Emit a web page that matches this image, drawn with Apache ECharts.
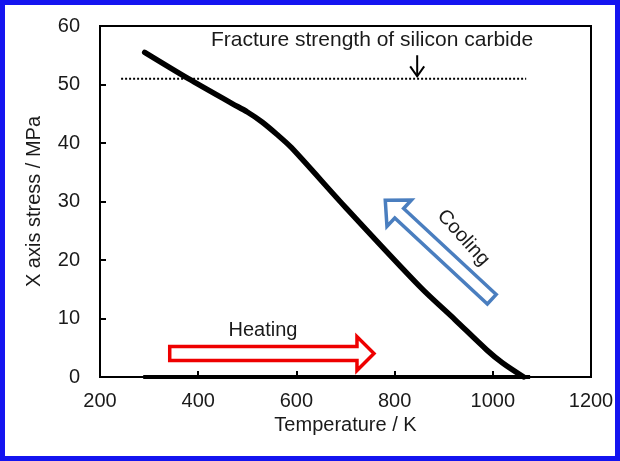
<!DOCTYPE html>
<html>
<head>
<meta charset="utf-8">
<script src="https://cdn.jsdelivr.net/npm/echarts@6/dist/echarts.min.js"></script>
<style>
html,body{margin:0;padding:0;background:#fff;}
#chart{width:620px;height:461px;}
</style>
</head>
<body>
<div id="chart"></div>
<script>
// ---- data ----
const coolTempK   = [291, 380, 470, 500, 530, 560, 590, 700, 852, 923, 988, 1020, 1063];
const coolStress  = [55.5, 51.0, 46.7, 45.3, 43.6, 41.5, 39.2, 29.0, 15.4, 9.8, 4.6, 2.4, 0];
const heatTempK   = [288, 1076];
const heatStress  = [0, 0];
const fractureStrength = 51;
const fractureTempK = [243, 1068];
const xTickLabels = [200, 400, 600, 800, 1000, 1200];
const yTickLabels = [0, 10, 20, 30, 40, 50, 60];

const FONT = 'Arial, "Liberation Sans", sans-serif';
const chart = echarts.init(document.getElementById('chart'));

chart.setOption({
  animation: false,
  backgroundColor: '#ffffff',
  grid: {left: 100, top: 26, right: 29, bottom: 84, show: true, borderColor: '#000', borderWidth: 2, backgroundColor: 'transparent'},
  xAxis: {
    type: 'value', min: xTickLabels[0], max: xTickLabels[xTickLabels.length - 1], interval: 200,
    name: 'Temperature / K', nameLocation: 'middle', nameGap: 31,
    nameTextStyle: {fontSize: 20, color: '#1a1a1a', fontFamily: FONT},
    axisLine: {lineStyle: {color: '#000', width: 2}},
    axisTick: {inside: true, length: 6, lineStyle: {color: '#000', width: 2}},
    axisLabel: {fontSize: 20, color: '#1a1a1a', fontFamily: FONT, margin: 14, formatter: v => String(v)},
    splitLine: {show: false}
  },
  yAxis: {
    type: 'value', min: yTickLabels[0], max: yTickLabels[yTickLabels.length - 1], interval: 10,
    name: 'X axis stress / MPa', nameLocation: 'middle', nameGap: 56,
    nameTextStyle: {fontSize: 20, color: '#1a1a1a', fontFamily: FONT},
    axisLine: {lineStyle: {color: '#000', width: 2}},
    axisTick: {inside: true, length: 6, lineStyle: {color: '#000', width: 2}},
    axisLabel: {fontSize: 20, color: '#1a1a1a', fontFamily: FONT, margin: 20, formatter: v => String(v)},
    splitLine: {show: false}
  },
  series: [
    {
      type: 'line', data: heatTempK.map((t, i) => [t, heatStress[i]]),
      symbol: 'none', lineStyle: {color: '#000', width: 4}, z: 3
    },
    {
      type: 'line', data: fractureTempK.map(t => [t, fractureStrength]),
      symbol: 'none', lineStyle: {color: '#000', width: 2, type: [2, 2]}, z: 2
    },
    {
      type: 'line', data: coolTempK.map((t, i) => [t, coolStress[i]]),
      symbol: 'none', smooth: 0.3, lineStyle: {color: '#000', width: 5.5, cap: 'round', join: 'round'}, z: 4
    }
  ]
});

// ---- annotations (anchored in data coordinates) ----
function px(x, y) { return chart.convertToPixel({gridIndex: 0}, [x, y]); }
function arrowPoly(tail, tip, sh, hh, hl) {
  const dx = tip[0] - tail[0], dy = tip[1] - tail[1];
  const L = Math.hypot(dx, dy), ux = dx / L, uy = dy / L, nx = -uy, ny = ux;
  const bx = tip[0] - ux * hl, by = tip[1] - uy * hl;
  return [
    [tail[0] + nx * sh, tail[1] + ny * sh],
    [bx + nx * sh, by + ny * sh],
    [bx + nx * hh, by + ny * hh],
    [tip[0], tip[1]],
    [bx - nx * hh, by - ny * hh],
    [bx - nx * sh, by - ny * sh],
    [tail[0] - nx * sh, tail[1] - ny * sh]
  ];
}
const redTail = px(342, 4.0), redTip = px(758, 4.0);
const blueTail = px(998, 13.3), blueTip = px(781, 30.2);
const fracText = px(754, 57.6), fracTip = px(846, 51.4), fracTop = px(846, 55.0);
const heatText = px(532, 7.9), coolText = px(940, 23.8);

chart.setOption({
  graphic: [
    {type: 'rect', shape: {x: 2.5, y: 2.5, width: 615, height: 456}, style: {fill: 'none', stroke: '#1414f0', lineWidth: 5}, z: 100},
    {type: 'polygon', shape: {points: arrowPoly(redTail, redTip, 7, 17, 17)}, style: {fill: '#fff', stroke: '#ee0000', lineWidth: 3.5, lineJoin: 'miter'}, z: 10},
    {type: 'polygon', shape: {points: arrowPoly(blueTail, blueTip, 6.5, 18, 19)}, style: {fill: '#fff', stroke: '#4a7ebf', lineWidth: 3.5, lineJoin: 'miter'}, z: 10},
    {type: 'text', x: fracText[0], y: fracText[1], style: {text: 'Fracture strength of silicon carbide', fontSize: 21, fontFamily: FONT, fill: '#1a1a1a', align: 'center', verticalAlign: 'middle'}, z: 10},
    {type: 'polyline', shape: {points: [fracTop, fracTip]}, style: {stroke: '#000', lineWidth: 2}, z: 10},
    {type: 'polyline', shape: {points: [[fracTip[0] - 7, fracTip[1] - 10], fracTip, [fracTip[0] + 7, fracTip[1] - 10]]}, style: {stroke: '#000', lineWidth: 2, fill: 'none'}, z: 10},
    {type: 'text', x: heatText[0], y: heatText[1], style: {text: 'Heating', fontSize: 20, fontFamily: FONT, fill: '#1a1a1a', align: 'center', verticalAlign: 'middle'}, z: 10},
    {type: 'text', x: coolText[0], y: coolText[1], rotation: -48 * Math.PI / 180, style: {text: 'Cooling', fontSize: 20, fontFamily: FONT, fill: '#1a1a1a', align: 'center', verticalAlign: 'middle'}, z: 10}
  ]
});
</script>
</body>
</html>
